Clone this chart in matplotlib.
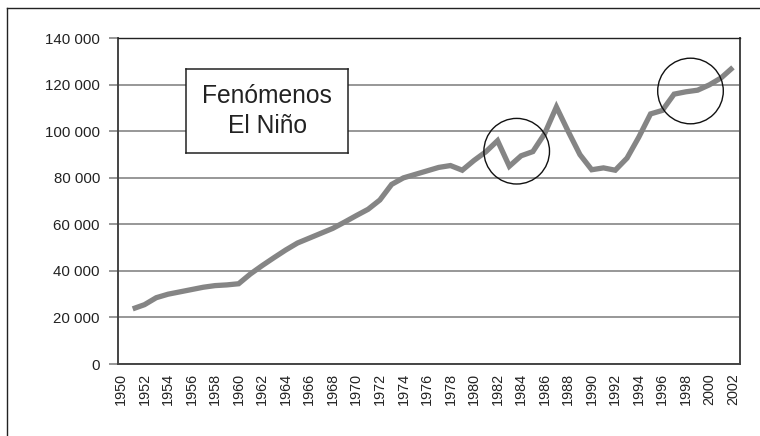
import matplotlib
matplotlib.use("Agg")
import matplotlib.pyplot as plt
from matplotlib.patches import Ellipse
from matplotlib.lines import Line2D

plt.rcParams['font.family'] = ['Liberation Sans', 'DejaVu Sans']

years = list(range(1951, 2003))
values = [23700, 25500, 28500, 30000, 31000, 32000, 33000, 33700, 34000, 34500,
          38700, 42300, 45700, 49000, 52000, 54100, 56200, 58300, 61000, 63800,
          66500, 70500, 77200, 80000, 81500, 83000, 84500, 85300, 83300, 87500,
          91200, 96000, 85000, 89500, 91300, 99000, 110500, 100000, 90000, 83500,
          84300, 83300, 88500, 97500, 107500, 109000, 116000, 117000, 117700, 120000,
          123000, 127500]
tick_years = list(range(1950, 2003, 2))
y_ticks = [0, 20000, 40000, 60000, 80000, 100000, 120000, 140000]
box_text = "Fenómenos\nEl Niño"

def fmt(v):
    return f"{v:,}".replace(",", " ")

W, H = 760, 436
fig = plt.figure(figsize=(W / 100, H / 100), dpi=100)
fig.patch.set_facecolor("white")

# outer frame (top and left edges)
fig.add_artist(Line2D([7 / W, 7 / W], [0, 1 - 8 / H], transform=fig.transFigure,
                      color="#222222", lw=1.0))
fig.add_artist(Line2D([7 / W, 1], [1 - 8 / H, 1 - 8 / H], transform=fig.transFigure,
                      color="#222222", lw=1.0))

ax_l, ax_r, ax_t, ax_b = 118, 740, 38.3, 364
ax = fig.add_axes([ax_l / W, 1 - ax_b / H, (ax_r - ax_l) / W, (ax_b - ax_t) / H])

ax.plot(years, values, color="#858585", lw=3.8, solid_capstyle="butt",
        solid_joinstyle="miter", zorder=3)

ax.set_xlim(1949.75, 2002.6)
ax.set_ylim(0, 140000)
ax.set_yticks(y_ticks)
ax.set_yticklabels([fmt(v) for v in y_ticks], fontsize=10.8, color="#222222")
ax.set_xticks(tick_years)
ax.set_xticklabels([str(y) for y in tick_years], rotation=90, fontsize=10.4,
                   color="#222222")
ax.tick_params(axis="x", length=0, pad=6.5)
ax.tick_params(axis="y", length=6.5, width=1.1, color="#7a7a7a", pad=6.5)
ax.yaxis.grid(True, color="#7a7a7a", lw=1.1, zorder=1)
ax.set_axisbelow(True)
for s in ax.spines.values():
    s.set_color("#444444")
    s.set_linewidth(1.4)
ax.spines["top"].set_color("#222222")
ax.spines["top"].set_linewidth(1.0)

# text box
bx0, bx1, by0, by1 = 185.7, 348.3, 69.3, 152.7
tb = fig.add_axes([bx0 / W, 1 - by1 / H, (bx1 - bx0) / W, (by1 - by0) / H])
tb.set_xticks([])
tb.set_yticks([])
tb.set_facecolor("white")
for s in tb.spines.values():
    s.set_color("#222222")
    s.set_linewidth(1.1)
tb.text(0.5, 0.5, box_text, ha="center", va="center", fontsize=17.7,
        color="#222222", linespacing=1.3, transform=tb.transAxes)

# annotation circles (pixel-based, round)
def circle_px(cx, cy, r):
    e = Ellipse((cx / W, 1 - cy / H), 2 * r / W, 2 * r / H,
                transform=fig.transFigure, fill=False, edgecolor="#111111", lw=1.0,
                zorder=5)
    fig.add_artist(e)

circle_px(516.7, 151.2, 32.8)
circle_px(690.5, 91.0, 32.8)

fig.savefig("out.png", dpi=100, facecolor="white")
